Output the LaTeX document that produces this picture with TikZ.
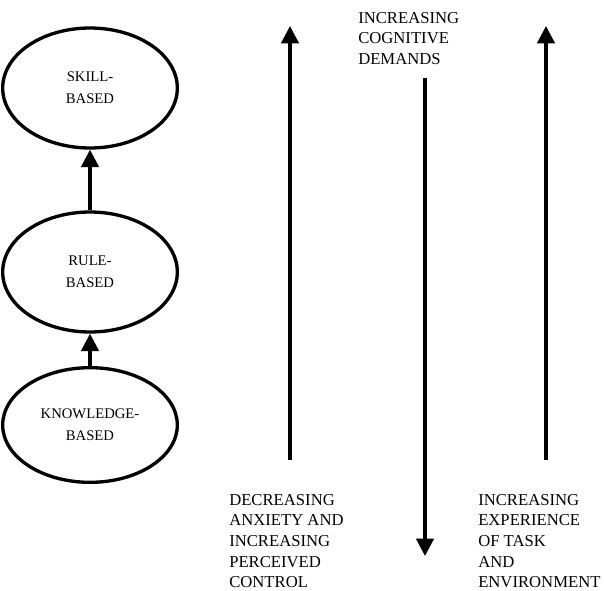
\documentclass[tikz,border=0pt]{standalone}
\usepackage{fontspec}
\setmainfont{Liberation Serif}
\usetikzlibrary{shapes.geometric, arrows.meta, positioning}
\tikzstyle{arrow} = [line width=2.4pt, -{Triangle[length=13pt, width=13pt]}]
\tikzstyle{level} = [ellipse, draw, line width=2.5pt, minimum width=131pt, minimum height=90pt, align=center, inner sep=0pt, font=\fontsize{11}{16.5}\selectfont]
\tikzstyle{label} = [align=left, anchor=north west, inner sep=0pt, font=\fontsize{12.5}{15.5}\selectfont]

\begin{document}
\begin{tikzpicture}[x=0.75pt, y=-0.75pt]
\useasboundingbox (0,0) rectangle (604,590);

\node (skill) [level] at (90, 88) {SKILL-\\BASED};
\node (rule) [level] at (90, 272) {RULE-\\BASED};
\node (knowledge) [level, minimum height=86pt] at (90, 425) {KNOWLEDGE-\\BASED};

\draw[arrow] (knowledge) -- (rule);
\draw[arrow] (rule) -- (skill);

% long arrows
\coordinate (anxlow) at (290, 460);
\coordinate (anxtop) at (290, 26);
\coordinate (cogtop) at (425, 78);
\coordinate (coglow) at (425, 556);
\coordinate (explow) at (546, 460);
\coordinate (exptop) at (546, 26);
\draw[arrow] (anxlow) -- (anxtop);
\draw[arrow] (cogtop) -- (coglow);
\draw[arrow] (explow) -- (exptop);

\node (anxiety) [label] at (229, 494) {DECREASING\\ANXIETY AND\\INCREASING\\PERCEIVED\\CONTROL};
\node (demands) [label] at (358, 12) {INCREASING\\COGNITIVE\\DEMANDS};
\node (experience) [label] at (478, 494) {INCREASING\\EXPERIENCE\\OF TASK\\AND\\ENVIRONMENT};
\end{tikzpicture}
\end{document}
